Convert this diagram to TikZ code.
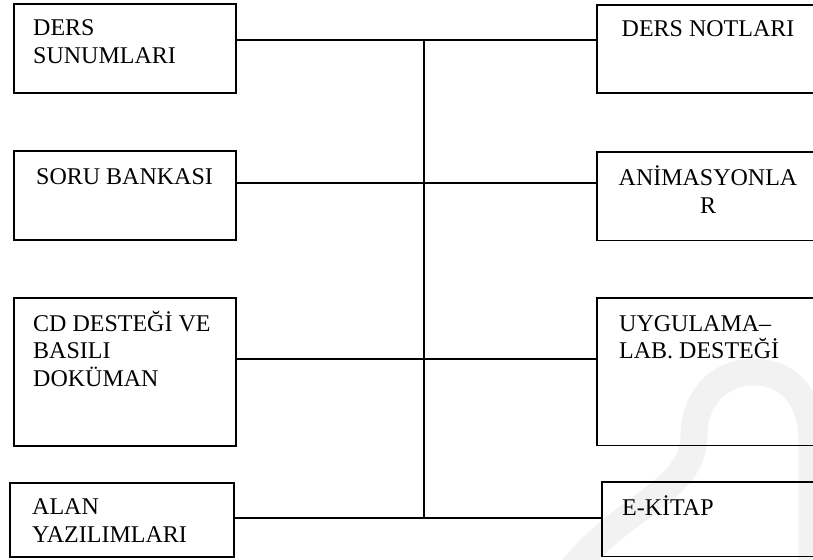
\documentclass[tikz,border=0pt]{standalone}
\usepackage{fontspec}
\setmainfont{Liberation Serif}
\begin{document}
\begin{tikzpicture}[x=1pt,y=-1pt,
  box/.style={draw=black,line width=1.8pt,rectangle,inner sep=0pt,anchor=north west},
  openbox/.style={rectangle,inner sep=0pt,anchor=north west},
  wire/.style={draw=black,line width=1.8pt},
  txt/.style={inner sep=0pt,anchor=base west,font=\fontsize{24}{28}\selectfont},
  ctxt/.style={txt,anchor=base},
  emblem/.style={draw=black!5,line width=27pt}]
\useasboundingbox (0,0) rectangle (813,559);
\clip (0,0) rectangle (813,559);

% faint background emblem
\draw[emblem] (560,585) .. controls (615,505) and (694,495) .. (694,435)
  .. controls (694,398) and (720,372) .. (753,372)
  .. controls (790,372) and (812,400) .. (812,440) -- (812,585);

% left column
\node[box,minimum width=222pt,minimum height=89pt] (L1) at (13,3) {};
\node[box,minimum width=222pt,minimum height=89pt] (L2) at (13,150) {};
\node[box,minimum width=222pt,minimum height=148pt] (L3) at (13,297) {};
\node[box,minimum width=224pt,minimum height=74pt] (L4) at (9,482) {};

% right column: the boxes run on past the right edge, so only
% their top, left and bottom sides are drawn
\node[openbox,minimum width=240pt,minimum height=88pt] (R1) at (597,5) {};
\node[openbox,minimum width=240pt,minimum height=88pt] (R2) at (597,152) {};
\node[openbox,minimum width=240pt,minimum height=147pt] (R3) at (597,298) {};
\node[openbox,minimum width=235pt,minimum height=74pt] (R4) at (602,482) {};
\foreach \b in {R1,R2,R3,R4}
  \draw[wire] (\b.north east) -- (\b.north west) -- (\b.south west) -- (\b.south east);

% labels
\node[txt] (L1a) at (33,36) {DERS};
\node[txt] (L1b) at (33,64) {SUNUMLARI};
\node[txt] (L2a) at (36,184) {SORU BANKASI};
\node[txt] (L3a) at (33,331) {CD DESTEĞİ VE};
\node[txt] (L3b) at (33,358) {BASILI};
\node[txt] (L3c) at (33,386) {DOKÜMAN};
\node[txt] (L4a) at (32,514) {ALAN};
\node[txt] (L4b) at (32,542) {YAZILIMLARI};
\node[ctxt] (R1a) at (708,37) {DERS NOTLARI};
\node[ctxt] (R2a) at (708,185) {ANİMASYONLA};
\node[ctxt] (R2b) at (708,213) {R};
\node[txt] (R3a) at (619,331) {UYGULAMA–};
\node[txt] (R3b) at (619,358) {LAB. DESTEĞİ};
\node[txt] (R4a) at (622,515) {E-KİTAP};

% trunk and branches
\coordinate (h1) at (424,40);
\coordinate (h2) at (424,183);
\coordinate (h3) at (424,359);
\coordinate (h4) at (424,518);
\draw[wire] (h1) -- (h4);
\draw[wire] (L1.east |- h1) -- (R1.west |- h1);
\draw[wire] (L2.east |- h2) -- (R2.west |- h2);
\draw[wire] (L3.east |- h3) -- (R3.west |- h3);
\draw[wire] (L4.east |- h4) -- (R4.west |- h4);
\end{tikzpicture}
\end{document}
